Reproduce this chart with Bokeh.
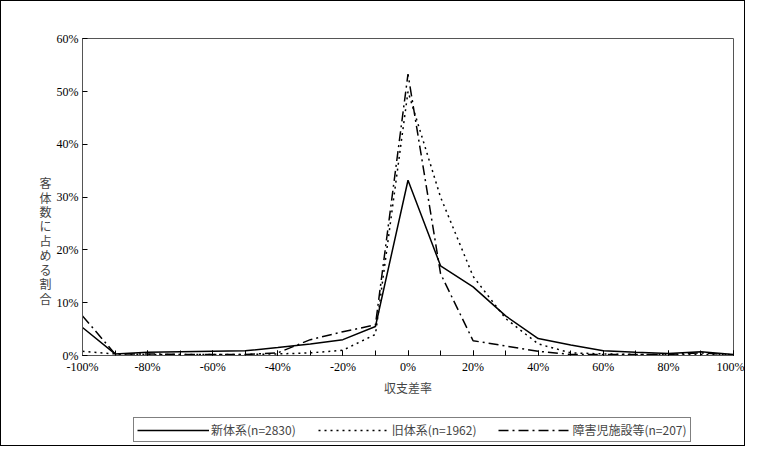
from bokeh.plotting import figure
from bokeh.layouts import column
from bokeh.models import Legend, LegendItem, SingleIntervalTicker, NumeralTickFormatter, Range1d
from bokeh.embed import file_html
from bokeh.resources import INLINE

x = [-1.0, -0.9, -0.8, -0.7, -0.6, -0.5, -0.4, -0.3, -0.2, -0.1, 0.0,
     0.1, 0.2, 0.3, 0.4, 0.5, 0.6, 0.7, 0.8, 0.9, 1.0]
shin = [5.3, 0.3, 0.6, 0.7, 0.8, 0.9, 1.5, 2.2, 3.0, 5.5, 33.2,
        17.0, 13.0, 7.5, 3.2, 2.0, 0.9, 0.6, 0.4, 0.7, 0.2]
kyu = [0.8, 0.3, 0.2, 0.2, 0.2, 0.2, 0.3, 0.5, 1.0, 4.0, 50.0,
       30.0, 15.0, 7.0, 2.2, 0.5, 0.3, 0.2, 0.2, 0.2, 0.1]
shogaiji = [7.5, 0.3, 0.3, 0.2, 0.2, 0.2, 0.5, 3.0, 4.5, 5.8, 53.3,
            15.5, 2.8, 1.8, 0.8, 0.2, 0.2, 0.2, 0.2, 0.5, 0.1]
labels = ["新体系(n=2830)", "旧体系(n=1962)", "障害児施設等(n=207)"]

serif = "Liberation Serif"
jp = "Noto Sans CJK JP"
dashes = ["solid", "2 4", "10 4 2 4"]

p = figure(width=743, height=397, output_backend="svg", toolbar_location=None,
           x_range=Range1d(-1.0, 1.0), y_range=Range1d(0, 0.6005),
           min_border_left=81, min_border_right=11, min_border_top=37, min_border_bottom=10)
p.grid.visible = False
p.outline_line_color = "#555555"

for ys, d in zip([shin, kyu, shogaiji], dashes):
    p.line(x, [v / 100 for v in ys], line_color="black", line_width=1.5, line_dash=d)

p.xaxis.ticker = SingleIntervalTicker(interval=0.2, num_minor_ticks=2)
p.xaxis.formatter = NumeralTickFormatter(format="0%")
p.yaxis.ticker = SingleIntervalTicker(interval=0.1, num_minor_ticks=0)
p.yaxis.formatter = NumeralTickFormatter(format="0%")
for ax in (p.xaxis, p.yaxis):
    ax.major_tick_in = 5
    ax.major_tick_out = 0
    ax.minor_tick_in = 5
    ax.minor_tick_out = 0
    ax.major_label_text_font = serif
    ax.major_label_text_font_size = "12px"
    ax.major_label_text_color = "black"
    ax.axis_line_color = "#555555"
    ax.axis_label_text_font = jp
    ax.axis_label_text_font_style = "normal"
    ax.axis_label_text_font_size = "12px"
p.xaxis.axis_label = "収支差率"
p.xaxis.axis_label_standoff = 2
p.xaxis.major_label_standoff = 4
p.yaxis.axis_label = "\n\n\n\n\n\n客\n体\n数\nに\n占\nめ\nる\n割\n合"
p.yaxis.axis_label_orientation = "horizontal"
p.yaxis.axis_label_text_line_height = 0.85
p.yaxis.axis_label_standoff = 2
p.yaxis.major_label_standoff = 4

# legend lives in a small figure of its own below the chart
lf = figure(width=743, height=47, output_backend="svg", toolbar_location=None,
            x_range=Range1d(0, 1), y_range=Range1d(0, 1),
            min_border=0, outline_line_color=None)
lf.axis.visible = False
lf.grid.visible = False
items = []
for lab, d in zip(labels, dashes):
    r = lf.line([5, 6], [5, 6], line_color="black", line_width=1.5, line_dash=d)
    items.append(LegendItem(label=lab, renderers=[r]))
legend = Legend(items=items, orientation="horizontal", location=(51, 3),
                label_text_font=jp, label_text_font_size="12px",
                glyph_width=72, glyph_height=10, label_height=10, spacing=22,
                padding=3, margin=0, border_line_color="black",
                label_standoff=2)
lf.add_layout(legend, "center")

layout = column(p, lf, spacing=0, styles={"border": "1px solid black"})
open("out.html", "w").write(file_html(layout, INLINE))
